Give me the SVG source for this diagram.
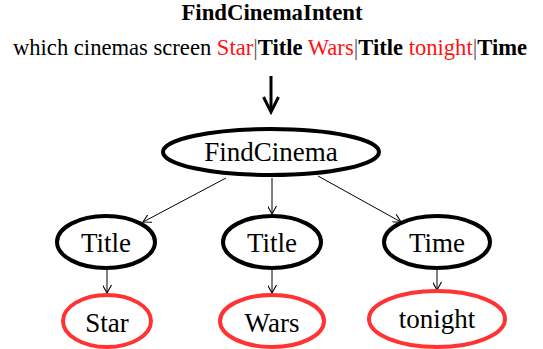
<svg xmlns="http://www.w3.org/2000/svg" width="543" height="349" viewBox="0 0 543 349">
<defs>
<style>
text{font-family:"Liberation Serif","Times New Roman",serif;fill:#000}
.b{font-weight:bold}
.r{fill:#ff0f0f}
.p{fill:#555}
.node{fill:#fff;stroke:#000;stroke-width:4}
.leaf{fill:#fff;stroke:#ff3333;stroke-width:4}
.lbl{font-size:27px;text-anchor:middle}
.edge{stroke:#000;stroke-width:1;fill:none}
</style>
<marker id="ah" viewBox="0 0 10 10" refX="9" refY="5" markerWidth="9" markerHeight="9" markerUnits="userSpaceOnUse" orient="auto">
<path d="M0,0 L9,5 L0,10" fill="none" stroke="#000" stroke-width="1.2"/>
</marker>
</defs>
<rect width="543" height="349" fill="#fff"/>
<g id="header">
<text x="272" y="20" class="b" font-size="22.8" text-anchor="middle">FindCinemaIntent</text>
<text x="270" y="55" font-size="22.6" text-anchor="middle">which cinemas screen <tspan class="r">Star</tspan><tspan class="p">|</tspan><tspan class="b">Title</tspan> <tspan class="r">Wars</tspan><tspan class="p">|</tspan><tspan class="b">Title</tspan> <tspan class="r">tonight</tspan><tspan class="p">|</tspan><tspan class="b">Time</tspan></text>
</g>
<g id="connectors">
<g id="bigarrow" stroke="#000" stroke-width="3" fill="none">
<line x1="271" y1="76" x2="271" y2="111"/>
<polyline points="263.5,97 271,112 278.5,97"/>
</g>
<line class="edge" x1="226" y1="178" x2="143" y2="222" marker-end="url(#ah)"/>
<line class="edge" x1="272" y1="178" x2="272" y2="214" marker-end="url(#ah)"/>
<line class="edge" x1="318" y1="176" x2="401" y2="222" marker-end="url(#ah)"/>
<line class="edge" x1="107" y1="269" x2="107" y2="293" marker-end="url(#ah)"/>
<line class="edge" x1="272" y1="269" x2="272" y2="293" marker-end="url(#ah)"/>
<line class="edge" x1="437" y1="270" x2="437" y2="290" marker-end="url(#ah)"/>
</g>
<g id="findcinema">
<ellipse class="node" cx="271" cy="152" rx="108" ry="23"/>
<text class="lbl" x="271" y="161" font-size="28">FindCinema</text>
</g>
<g id="title1">
<ellipse class="node" cx="106" cy="242" rx="49" ry="26"/>
<text class="lbl" x="106" y="252">Title</text>
</g>
<g id="title2">
<ellipse class="node" cx="272" cy="242" rx="49" ry="26"/>
<text class="lbl" x="272" y="252">Title</text>
</g>
<g id="time">
<ellipse class="node" cx="437" cy="242" rx="53" ry="26"/>
<text class="lbl" x="437" y="252">Time</text>
</g>
<g id="star">
<ellipse class="leaf" cx="107" cy="321" rx="44" ry="26"/>
<text class="lbl" x="107" y="332">Star</text>
</g>
<g id="wars">
<ellipse class="leaf" cx="272" cy="321" rx="52" ry="26"/>
<text class="lbl" x="272" y="332">Wars</text>
</g>
<g id="tonight">
<ellipse class="leaf" cx="437" cy="319" rx="68" ry="28"/>
<text class="lbl" x="437" y="328">tonight</text>
</g>
</svg>
